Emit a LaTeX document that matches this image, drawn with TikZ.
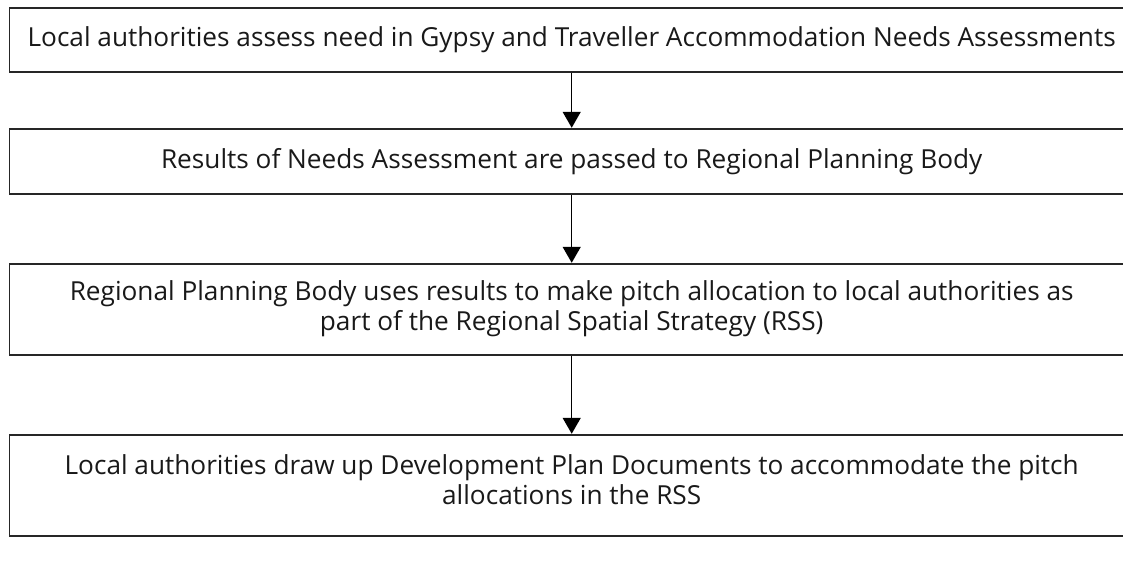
\documentclass[tikz,border=0pt]{standalone}
\usepackage{fontspec}
\setmainfont{Open Sans}
\usetikzlibrary{arrows.meta}
\tikzset{
  flowbox/.style={draw=black!85, line width=1.4pt, rectangle, inner sep=0pt, minimum width=1124.7pt},
  flowtxt/.style={align=center, text=black!90, font=\fontsize{26.2}{30.5}\selectfont, inner sep=0pt},
  flowarrow/.style={line width=1.3pt, draw=black, -{Triangle[width=18pt,length=16pt]}, shorten >=0.5pt}
}
\begin{document}
\begin{tikzpicture}[x=1pt,y=1pt]
\useasboundingbox (0,0) rectangle (1123,584);
\clip (0,0) rectangle (1123,584);
\node[flowbox, minimum height=64pt] (b1) at (571.7,544) {};
\node[flowtxt] (t1) at (b1.center) {Local authorities assess need in Gypsy and Traveller Accommodation Needs Assessments};
\node[flowbox, minimum height=65pt] (b2) at (571.7,422.5) {};
\node[flowtxt] (t2) at (b2.center) {Results of Needs Assessment are passed to Regional Planning Body};
\node[flowbox, minimum height=91pt] (b3) at (571.7,274.5) {};
\node[flowtxt] (t3) at (571.7,275.5) {Regional Planning Body uses results to make pitch allocation to local authorities as\\part of the Regional Spatial Strategy (RSS)};
\node[flowbox, minimum height=101pt] (b4) at (571.7,98.5) {};
\node[flowtxt] (t4) at (571.7,104.5) {Local authorities draw up Development Plan Documents to accommodate the pitch\\allocations in the RSS};
\draw[flowarrow] (b1.south) -- (b2.north);
\draw[flowarrow] (b2.south) -- (b3.north);
\draw[flowarrow] (b3.south) -- (b4.north);
\end{tikzpicture}
\end{document}
